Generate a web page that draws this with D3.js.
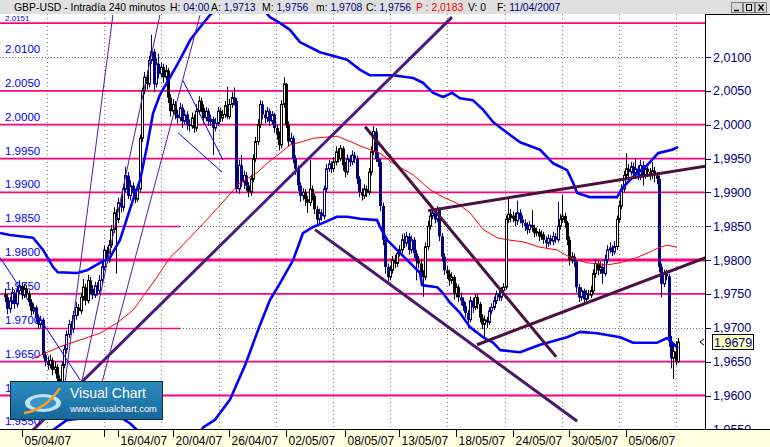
<!DOCTYPE html>
<html><head><meta charset="utf-8">
<script src="https://cdn.jsdelivr.net/npm/d3@7"></script>
<style>body{margin:0;background:#fff;overflow:hidden}svg{display:block;font-family:"Liberation Sans",Arial,sans-serif}</style>
</head><body><svg id="c" width="770" height="447"></svg>
<script>
// ---------- DATA ----------
const firstOpen = 1.9750;
const closes = [
1.9745,1.9728,1.9740,1.9752,1.9735,1.9755,1.9762,1.9748,1.9758,1.9750,
1.9738,1.9725,1.9730,1.9715,1.9705,1.9712,1.9660,1.9650,1.9645,1.9652,
1.9638,1.9642,1.9625,1.9618,1.9645,1.9668,1.9690,1.9705,1.9698,1.9718,
1.9730,1.9725,1.9745,1.9760,1.9740,1.9770,1.9758,1.9748,1.9762,1.9755,
1.9770,1.9790,1.9815,1.9800,1.9822,1.9845,1.9870,1.9860,1.9885,1.9878,
1.9905,1.9925,1.9895,1.9910,1.9900,1.9890,1.9905,1.9980,2.0050,2.0070,
2.0060,2.0095,2.0108,2.0060,2.0090,2.0075,2.0085,2.0070,2.0080,2.0040,
2.0020,2.0030,2.0015,2.0010,2.0025,2.0005,2.0015,2.0000,1.9998,2.0010,
1.9995,2.0020,2.0035,2.0025,2.0010,2.0020,2.0005,2.0008,1.9995,2.0002,
2.0020,2.0010,2.0015,2.0028,2.0012,2.0030,2.0040,2.0035,1.9905,1.9940,
1.9915,1.9925,1.9910,1.9900,1.9920,1.9950,1.9975,2.0000,2.0030,2.0015,
2.0010,2.0020,2.0005,2.0015,1.9995,1.9985,1.9970,2.0030,2.0060,2.0000,
1.9975,1.9980,1.9950,1.9935,1.9910,1.9895,1.9900,1.9890,1.9885,1.9905,
1.9895,1.9875,1.9860,1.9870,1.9865,1.9905,1.9935,1.9942,1.9935,1.9945,
1.9960,1.9950,1.9965,1.9940,1.9930,1.9950,1.9945,1.9955,1.9950,1.9920,
1.9900,1.9895,1.9905,1.9900,1.9930,1.9960,1.9990,1.9950,1.9945,1.9880,
1.9830,1.9790,1.9775,1.9785,1.9800,1.9795,1.9810,1.9815,1.9830,1.9825,
1.9835,1.9815,1.9830,1.9810,1.9800,1.9795,1.9780,1.9775,1.9820,1.9850,
1.9865,1.9870,1.9860,1.9875,1.9835,1.9805,1.9785,1.9780,1.9770,1.9775,
1.9750,1.9760,1.9745,1.9740,1.9732,1.9722,1.9712,1.9740,1.9730,1.9745,
1.9735,1.9715,1.9705,1.9712,1.9708,1.9725,1.9730,1.9740,1.9750,1.9745,
1.9755,1.9760,1.9860,1.9868,1.9862,1.9865,1.9858,1.9870,1.9860,1.9855,
1.9850,1.9845,1.9852,1.9848,1.9840,1.9842,1.9835,1.9838,1.9830,1.9825,
1.9832,1.9828,1.9835,1.9830,1.9850,1.9860,1.9865,1.9855,1.9830,1.9800,
1.9805,1.9798,1.9760,1.9745,1.9755,1.9742,1.9750,1.9748,1.9755,1.9780,
1.9795,1.9785,1.9790,1.9780,1.9800,1.9815,1.9818,1.9812,1.9820,1.9860,
1.9880,1.9905,1.9925,1.9935,1.9930,1.9938,1.9928,1.9935,1.9925,1.9940,
1.9925,1.9935,1.9930,1.9925,1.9932,1.9925,1.9920,1.9790,1.9765,1.9780,
1.9776,1.9680,1.9655,1.9665,1.9650,1.9679];
const highs = [
1.9758,1.9750,1.9746,1.9760,1.9756,1.9762,1.9770,1.9766,1.9765,1.9763,
1.9755,1.9742,1.9736,1.9733,1.9720,1.9718,1.9715,1.9665,1.9658,1.9660,
1.9656,1.9650,1.9646,1.9630,1.9650,1.9675,1.9696,1.9712,1.9710,1.9725,
1.9738,1.9735,1.9752,1.9772,1.9765,1.9778,1.9775,1.9763,1.9768,1.9767,
1.9778,1.9798,1.9822,1.9820,1.9830,1.9852,1.9878,1.9875,1.9892,1.9895,
1.9912,1.9938,1.9930,1.9918,1.9915,1.9905,1.9912,1.9985,2.0055,2.0078,
2.0080,2.0102,2.0133,2.0112,2.0098,2.0105,2.0092,2.0090,2.0088,2.0084,
2.0045,2.0038,2.0035,2.0022,2.0032,2.0030,2.0022,2.0020,2.0008,2.0018,
2.0015,2.0030,2.0042,2.0040,2.0030,2.0026,2.0024,2.0015,2.0012,2.0010,
2.0026,2.0025,2.0022,2.0035,2.0056,2.0038,2.0048,2.0055,2.0040,1.9948,
1.9955,1.9932,1.9930,1.9915,1.9926,1.9956,1.9982,2.0008,2.0036,2.0035,
2.0022,2.0026,2.0024,2.0020,2.0018,2.0000,1.9990,2.0036,2.0070,2.0062,
2.0005,1.9988,1.9984,1.9955,1.9940,1.9915,1.9906,1.9905,1.9895,1.9948,
1.9910,1.9898,1.9880,1.9876,1.9875,1.9910,1.9942,1.9948,1.9946,1.9952,
1.9968,1.9965,1.9970,1.9968,1.9945,1.9956,1.9955,1.9962,1.9960,1.9954,
1.9924,1.9906,1.9912,1.9910,1.9936,1.9968,1.9998,1.9995,1.9958,1.9950,
1.9885,1.9835,1.9795,1.9792,1.9806,1.9808,1.9816,1.9822,1.9838,1.9840,
1.9842,1.9840,1.9836,1.9834,1.9815,1.9806,1.9800,1.9785,1.9826,1.9858,
1.9872,1.9876,1.9875,1.9880,1.9878,1.9840,1.9810,1.9792,1.9786,1.9782,
1.9778,1.9766,1.9764,1.9752,1.9745,1.9738,1.9726,1.9746,1.9744,1.9750,
1.9750,1.9738,1.9720,1.9718,1.9716,1.9730,1.9736,1.9746,1.9755,1.9756,
1.9760,1.9766,1.9866,1.9893,1.9875,1.9872,1.9870,1.9888,1.9875,1.9866,
1.9860,1.9856,1.9858,1.9874,1.9852,1.9848,1.9846,1.9844,1.9842,1.9835,
1.9838,1.9837,1.9842,1.9840,1.9886,1.9868,1.9896,1.9870,1.9858,1.9835,
1.9812,1.9810,1.9800,1.9765,1.9760,1.9758,1.9756,1.9756,1.9762,1.9786,
1.9802,1.9800,1.9798,1.9795,1.9808,1.9822,1.9826,1.9822,1.9828,1.9866,
1.9888,1.9912,1.9932,1.9958,1.9942,1.9945,1.9944,1.9950,1.9940,1.9948,
1.9946,1.9940,1.9938,1.9936,1.9945,1.9938,1.9930,1.9925,1.9795,1.9786,
1.9786,1.9780,1.9688,1.9676,1.9680,1.9685];
const lows = [
1.9738,1.9720,1.9722,1.9735,1.9728,1.9730,1.9750,1.9742,1.9744,1.9745,
1.9732,1.9718,1.9720,1.9708,1.9698,1.9700,1.9655,1.9643,1.9638,1.9640,
1.9630,1.9632,1.9615,1.9608,1.9612,1.9640,1.9662,1.9685,1.9690,1.9692,
1.9712,1.9718,1.9720,1.9740,1.9733,1.9736,1.9750,1.9742,1.9744,1.9748,
1.9750,1.9764,1.9785,1.9795,1.9796,1.9818,1.9840,1.9780,1.9855,1.9870,
1.9872,1.9900,1.9890,1.9888,1.9893,1.9884,1.9886,1.9900,1.9975,2.0045,
2.0052,2.0055,2.0090,2.0048,2.0055,2.0068,2.0070,2.0062,2.0065,2.0032,
2.0012,2.0015,2.0008,2.0002,2.0005,1.9995,2.0000,1.9992,1.9990,1.9994,
1.9988,1.9990,2.0015,2.0018,2.0002,2.0005,1.9998,1.9998,1.9955,1.9990,
1.9998,2.0004,2.0005,2.0010,2.0008,2.0008,2.0025,2.0028,1.9900,1.9898,
1.9908,1.9905,1.9902,1.9893,1.9895,1.9915,1.9945,1.9970,1.9995,2.0008,
2.0002,2.0004,1.9998,2.0000,1.9988,1.9978,1.9962,1.9965,2.0025,1.9995,
1.9968,1.9970,1.9943,1.9926,1.9902,1.9886,1.9888,1.9880,1.9870,1.9880,
1.9888,1.9868,1.9852,1.9855,1.9858,1.9860,1.9900,1.9930,1.9928,1.9930,
1.9940,1.9944,1.9946,1.9932,1.9922,1.9926,1.9938,1.9940,1.9943,1.9912,
1.9893,1.9888,1.9890,1.9893,1.9896,1.9925,1.9955,1.9945,1.9938,1.9872,
1.9822,1.9780,1.9768,1.9770,1.9780,1.9788,1.9790,1.9805,1.9810,1.9818,
1.9820,1.9808,1.9810,1.9803,1.9770,1.9788,1.9772,1.9746,1.9770,1.9815,
1.9845,1.9860,1.9854,1.9856,1.9828,1.9798,1.9778,1.9772,1.9762,1.9765,
1.9742,1.9745,1.9738,1.9733,1.9725,1.9715,1.9700,1.9708,1.9722,1.9726,
1.9728,1.9708,1.9698,1.9684,1.9700,1.9704,1.9720,1.9726,1.9735,1.9740,
1.9740,1.9750,1.9756,1.9855,1.9856,1.9856,1.9850,1.9852,1.9854,1.9848,
1.9843,1.9838,1.9840,1.9842,1.9834,1.9835,1.9828,1.9830,1.9824,1.9818,
1.9820,1.9822,1.9822,1.9825,1.9826,1.9845,1.9855,1.9848,1.9822,1.9792,
1.9795,1.9790,1.9752,1.9738,1.9740,1.9735,1.9738,1.9742,1.9744,1.9750,
1.9774,1.9778,1.9780,1.9765,1.9776,1.9795,1.9810,1.9806,1.9808,1.9815,
1.9855,1.9875,1.9900,1.9920,1.9922,1.9925,1.9920,1.9922,1.9918,1.9918,
1.9910,1.9920,1.9924,1.9918,1.9920,1.9915,1.9912,1.9782,1.9745,1.9760,
1.9770,1.9672,1.9640,1.9624,1.9645,1.9648];

// Bollinger-type bands and moving average: [bar index, price]
const upperBand = [[-2.1,1.9840],[2.1,1.9837],[11.9,1.9833],[16.1,1.9815],[20.3,1.9790],[22.4,1.9782],[30.5,1.9781],[34.7,1.9785],[40.2,1.9796],[44.5,1.9804],[48.7,1.9830],[54.2,1.9889],[57.2,1.9918],[60.1,1.9967],[62.7,2.0017],[65.6,2.0044],[69.9,2.0070],[74.1,2.0096],[78.4,2.0125],[82.6,2.0144],[86.8,2.0162],[93.2,2.0180],[101.7,2.0192],[108.9,2.0172],[112.2,2.0159],[116.5,2.0150],[120.7,2.0140],[124.9,2.0122],[133.4,2.0107],[144.9,2.0096],[150.4,2.0081],[154.6,2.0073],[164.3,2.0073],[172.8,2.0069],[177.0,2.0062],[181.3,2.0047],[185.5,2.0041],[189.3,2.0047],[192.7,2.0039],[198.2,2.0036],[202.5,2.0022],[206.7,2.0004],[209.7,1.9996],[218.1,1.9974],[226.6,1.9963],[232.1,1.9943],[238.0,1.9933],[240.6,1.9914],[242.3,1.9899],[247.8,1.9893],[259.2,1.9893],[261.8,1.9908],[266.0,1.9923],[271.9,1.9940],[276.6,1.9958],[282.5,1.9963],[285.0,1.9967]];
const lowerBand = [[10.6,1.9527],[16.9,1.9539],[20.3,1.9549],[26.3,1.9564],[34.7,1.9567],[48.7,1.9568],[52.9,1.9559],[55.9,1.9549],[61.4,1.9527],[72.0,1.9512],[80.5,1.9534],[83.9,1.9553],[88.9,1.9564],[95.3,1.9594],[101.7,1.9645],[107.2,1.9697],[112.2,1.9741],[116.5,1.9766],[122.0,1.9800],[126.2,1.9840],[130.5,1.9849],[134.7,1.9855],[140.6,1.9864],[144.9,1.9864],[150.4,1.9861],[157.6,1.9859],[158.8,1.9849],[161.8,1.9830],[166.0,1.9815],[171.5,1.9796],[175.8,1.9781],[176.6,1.9763],[183.0,1.9760],[185.5,1.9751],[188.5,1.9737],[192.7,1.9722],[196.9,1.9701],[202.5,1.9686],[206.7,1.9678],[209.7,1.9667],[218.1,1.9664],[226.6,1.9675],[238.0,1.9686],[243.5,1.9694],[250.7,1.9692],[260.5,1.9686],[266.0,1.9678],[276.2,1.9678],[280.4,1.9685],[285.0,1.9670]];
const movingAvg = [[11.4,1.9654],[23.3,1.9672],[31.8,1.9682],[40.2,1.9692],[47.4,1.9707],[54.2,1.9726],[58.4,1.9746],[64.4,1.9775],[69.9,1.9804],[74.1,1.9818],[82.6,1.9849],[91.1,1.9881],[99.5,1.9914],[106.7,1.9929],[111.0,1.9943],[116.5,1.9958],[120.7,1.9970],[124.9,1.9974],[130.5,1.9980],[140.6,1.9983],[144.9,1.9977],[151.6,1.9967],[158.8,1.9958],[164.3,1.9943],[172.8,1.9926],[180.0,1.9904],[185.5,1.9893],[191.4,1.9884],[196.9,1.9870],[202.5,1.9845],[208.4,1.9833],[212.6,1.9830],[219.4,1.9827],[226.6,1.9819],[233.8,1.9815],[239.3,1.9804],[246.5,1.9796],[255.0,1.9793],[260.5,1.9796],[267.7,1.9804],[273.2,1.9812],[277.4,1.9819],[280.4,1.9822],[284.6,1.9819]];

// drawn trend lines: [startIndex, startPrice, endIndex, endPrice]
const thickRise   = [6.35,1.9530,189.3,2.0159];
const channelTop  = [152.5,1.9997,233.4,1.9657];
const channelBot  = [131.3,1.9845,242.3,1.9562];
const triangleTop = [179.2,1.9873,296.9,1.9939];
const triangleBot = [199.9,1.9675,296.9,1.9804];
const thinPurple  = [[25.0,1.9608,45.7,2.0162],[31.8,1.9608,65.6,2.0162],[40.2,1.9608,82.6,2.0162]];
const thinBlue    = [[75.4,2.0065,92.3,1.9948],[73.3,1.9988,91.9,1.9930],[-2.1,1.9804,31.8,1.9623]];

// price levels
const pinkLevels = [2.0150,2.0050,2.0000,1.9950,1.9900,1.9750,1.9650,1.9600];
const boldLevel = 1.9800;
const dottedLevels = [2.0100,1.9850,1.9700,1.9550];
const topLabel = 2.0151;
const leftLabels = [2.0100,2.0050,2.0000,1.9950,1.9900,1.9850,1.9800,1.9750,1.9700,1.9650,1.9600,1.9550];
const rightLabels = [2.0100,2.0050,2.0000,1.9950,1.9900,1.9850,1.9800,1.9750,1.9700,1.9650,1.9600,1.9550];
const dateTicks = [7,42,48,71,95,119,144,167,191,215,239,263];
const dateLabels = ["05/04/07","","16/04/07","20/04/07","26/04/07","02/05/07","08/05/07","13/05/07","18/05/07","24/05/07","30/05/07","05/06/07"];
const lastPrice = 1.9679;
const title = "GBP-USD - Intradía 240 minutos";
const headerFields = [["H: ","04:00"],["A: ","1,9713"],["M: ","1,9756"],["m: ","1,9708"],["C: ","1,9756"],["P : 2,0183",""],["V: 0",""],["F: ","11/04/2007"]];

// ---------- DRAW ----------
const W=770,H=447,plotR=705,plotT=14,plotB=429;
const svg=d3.select('#c');
const x=d3.scaleLinear().domain([0,285]).range([5,678]);
const y=d3.scaleLinear().domain([1.955,2.010]).range([429.35,57]);
const fmt=v=>v.toFixed(4);
const fmtC=v=>v.toFixed(4).replace('.',',');

svg.append('rect').attr('width',W).attr('height',H).attr('fill','#fff');
const defs=svg.append('defs');
defs.append('clipPath').attr('id','clip').append('rect').attr('x',0).attr('y',plotT).attr('width',plotR).attr('height',plotB-plotT);
const g=svg.append('g').attr('clip-path','url(#clip)');

d3.range(47,700,57.2).forEach(px=>{
  g.append('line').attr('x1',Math.round(px)+0.5).attr('x2',Math.round(px)+0.5).attr('y1',plotT).attr('y2',plotB)
   .attr('stroke','#808080').attr('stroke-dasharray','1,3');
});
dottedLevels.forEach(v=>{
  const yy=Math.round(y(v))+0.5;
  g.append('line').attr('x1',0).attr('x2',plotR).attr('y1',yy).attr('y2',yy).attr('stroke','#806080').attr('stroke-dasharray','1,2');
});
[1.9850,1.9700].forEach(v=>{
  const yy=Math.round(y(v))+0.5;
  g.append('line').attr('x1',0).attr('x2',180).attr('y1',yy).attr('y2',yy).attr('stroke','#ff0080').attr('stroke-width',1.5);
});
pinkLevels.forEach(v=>{
  g.append('line').attr('x1',0).attr('x2',plotR).attr('y1',y(v)).attr('y2',y(v)).attr('stroke','#ff0080').attr('stroke-width',1.8);
});
g.append('line').attr('x1',0).attr('x2',plotR).attr('y1',y(boldLevel)).attr('y2',y(boldLevel)).attr('stroke','#ff0080').attr('stroke-width',3);

g.selectAll('text.ll').data(leftLabels).enter().append('text').attr('class','ll')
  .attr('x',5).attr('y',d=>y(d)-4).attr('fill','#0000ff').attr('font-size',11.5).text(fmt);
svg.append('text').attr('x',5).attr('y',y(topLabel)-1.5).attr('fill','#0000ff').attr('font-size',8).text(fmt(topLabel));

const cg=g.append('g');
closes.forEach((c,i)=>{
  const o=i?closes[i-1]:firstOpen;
  const h=Math.max(highs[i],o,c), l=Math.min(lows[i],o,c);
  const col=(Math.floor((i+5)/6)%2)?'#000080':'#000000';
  const cx=Math.round(x(i))+0.5;
  cg.append('line').attr('x1',cx).attr('x2',cx).attr('y1',y(h)).attr('y2',y(l)).attr('stroke',col).attr('stroke-width',1);
  const top=y(Math.max(o,c)), bot=y(Math.min(o,c));
  if(c>=o){
    cg.append('rect').attr('x',cx-1).attr('y',top).attr('width',2).attr('height',Math.max(1,bot-top))
      .attr('fill','#fff').attr('stroke',col).attr('stroke-width',1);
  } else {
    cg.append('rect').attr('x',cx-1.5).attr('y',top).attr('width',3).attr('height',Math.max(1,bot-top)).attr('fill',col);
  }
});

const line=d3.line().x(d=>x(d[0])).y(d=>y(d[1]));
g.append('path').attr('d',line(movingAvg)).attr('fill','none').attr('stroke','#ff0000').attr('stroke-width',1);
[upperBand,lowerBand].forEach(b=>g.append('path').attr('d',line(b)).attr('fill','none').attr('stroke','#0000ff').attr('stroke-width',2.6).attr('stroke-linejoin','round'));

const seg=(s,col,w)=>g.append('line').attr('x1',x(s[0])).attr('y1',y(s[1])).attr('x2',x(s[2])).attr('y2',y(s[3])).attr('stroke',col).attr('stroke-width',w);
thinPurple.forEach(s=>seg(s,'#5a1a9a',1));
thinBlue.forEach(s=>seg(s,'#0000ff',1));
seg(thickRise,'#4b1a80',3);
seg(channelTop,'#4a1040',3);
seg(channelBot,'#4a1a6a',3);
seg(triangleTop,'#4a1040',3);
seg(triangleBot,'#4a1040',3);

svg.append('line').attr('x1',705.5).attr('x2',705.5).attr('y1',plotT).attr('y2',plotB).attr('stroke','#000');
svg.append('line').attr('x1',705).attr('x2',770).attr('y1',plotT+0.5).attr('y2',plotT+0.5).attr('stroke','#000');
defs.append('clipPath').attr('id','clipR').append('rect').attr('x',706).attr('y',plotT+1).attr('width',64).attr('height',plotB-plotT-1);
const ra=svg.append('g').attr('clip-path','url(#clipR)');
rightLabels.forEach(v=>{
  ra.append('line').attr('x1',706).attr('x2',711).attr('y1',Math.round(y(v))+0.5).attr('y2',Math.round(y(v))+0.5).attr('stroke','#000080');
  ra.append('text').attr('x',713).attr('y',y(v)+4.5).attr('fill','#000080').attr('font-size',12.5).text(fmtC(v));
});
const ly=y(lastPrice);
svg.append('path').attr('d',`M704,${ly-3} L700,${ly} L704,${ly+3}`).attr('fill','none').attr('stroke','#000').attr('stroke-width',1);
svg.append('rect').attr('x',712.5).attr('y',Math.round(ly)-7.5).attr('width',41).attr('height',15).attr('fill','#ffffc0').attr('stroke','#000');
svg.append('text').attr('x',714).attr('y',Math.round(ly)+4.5).attr('fill','#000080').attr('font-size',12.5).text(fmtC(lastPrice));

svg.append('rect').attr('x',0).attr('y',plotB).attr('width',W).attr('height',H-plotB).attr('fill','#ffffe1');
svg.append('line').attr('x1',0).attr('x2',W).attr('y1',plotB+0.5).attr('y2',plotB+0.5).attr('stroke','#000');
dateTicks.forEach((t,k)=>{
  const px=Math.round(x(t))+0.5;
  svg.append('line').attr('x1',px).attr('x2',px).attr('y1',plotB).attr('y2',plotB+8).attr('stroke','#000');
  svg.append('text').attr('x',px+2).attr('y',445).attr('font-size',12).attr('fill','#000').text(dateLabels[k]);
});

// header
svg.append('rect').attr('x',0).attr('y',0).attr('width',W).attr('height',plotT).attr('fill','#e0e0e0');
svg.append('text').attr('x',14).attr('y',11).attr('font-size',10.4).attr('fill','#000').text(title);
const fx=[170,211,262,316,366,416,468,497];
headerFields.forEach(([a,b],k)=>{
  const t=svg.append('text').attr('x',fx[k]).attr('y',11).attr('font-size',10.4).attr('xml:space','preserve');
  t.append('tspan').attr('fill',k===5?'#ff0000':'#000').text(a);
  if(b) t.append('tspan').attr('fill','#000080').text(b);
});
[731,743,755].forEach((bx,k)=>{
  svg.append('rect').attr('x',bx+0.5).attr('y',2.5).attr('width',11).attr('height',10).attr('fill','#d8d8d8').attr('stroke','#808080');
  if(k===0) svg.append('line').attr('x1',bx+3).attr('x2',bx+8).attr('y1',10.5).attr('y2',10.5).attr('stroke','#000').attr('stroke-width',1.5);
  if(k===1) svg.append('rect').attr('x',bx+3.5).attr('y',4.5).attr('width',5).attr('height',6).attr('fill','none').attr('stroke','#000');
  if(k===2) svg.append('path').attr('d',`M${bx+3.5},4.5 L${bx+8.5},10.5 M${bx+8.5},4.5 L${bx+3.5},10.5`).attr('stroke','#000').attr('stroke-width',1.5);
});

// logo
const lg=defs.append('linearGradient').attr('id','lgr').attr('x1',0).attr('y1',0).attr('x2',0).attr('y2',1);
lg.append('stop').attr('offset','0').attr('stop-color','#2c8cc2');
lg.append('stop').attr('offset','1').attr('stop-color','#176898');
svg.append('rect').attr('x',10.5).attr('y',381.5).attr('width',152).attr('height',38).attr('fill','url(#lgr)').attr('stroke','#0b2d48');
svg.append('ellipse').attr('cx',43).attr('cy',403).attr('rx',18).attr('ry',9).attr('fill','#bfe3f7');
svg.append('ellipse').attr('cx',43).attr('cy',403).attr('rx',13).attr('ry',6).attr('fill','#3a93c8');
svg.append('path').attr('d','M24,413 Q45,410 60,388').attr('fill','none').attr('stroke','#f0a020').attr('stroke-width',2.5);
svg.append('text').attr('x',70).attr('y',398).attr('fill','#fff').attr('font-size',14).text('Visual Chart');
svg.append('text').attr('x',70).attr('y',412).attr('fill','#fff').attr('font-size',9.3).text('www.visualchart.com');
</script></body></html>
